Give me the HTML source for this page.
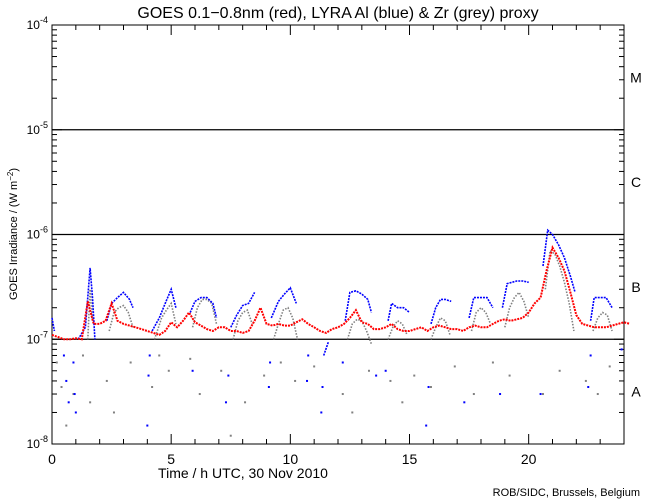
<!DOCTYPE html>
<html><head><meta charset="utf-8"><style>
body{margin:0;background:#fff;}
svg{display:block;font-family:"Liberation Sans",sans-serif;}
</style></head><body>
<svg id="chart" width="650" height="500">
<text x="338" y="18" font-size="16" text-anchor="middle">GOES 0.1−0.8nm (red), LYRA Al (blue) &amp; Zr (grey) proxy</text>
<text x="243" y="478" font-size="14" text-anchor="middle">Time / h UTC, 30 Nov 2010</text>
<text x="640" y="496" font-size="11" text-anchor="end">ROB/SIDC, Brussels, Belgium</text>
<text transform="translate(17,234) rotate(-90)" font-size="11" text-anchor="middle">GOES Irradiance / (W m<tspan dy="-4" font-size="8">−2</tspan><tspan dy="4">)</tspan></text>
<g id="axes"></g>
<g id="marks"></g>
</svg>
<script>
// hours 0..24 at 0.25 h step, values in 1e-7 W/m^2
const redV=[1.1,1.05,1.0,1.0,1.02,1.0,2.3,1.4,1.4,1.5,2.2,1.5,1.4,1.35,1.3,1.25,1.2,1.15,1.1,1.2,1.45,1.3,1.5,1.8,1.45,1.35,1.25,1.2,1.3,1.3,1.2,1.2,1.15,1.2,1.5,2.0,1.4,1.35,1.4,1.35,1.35,1.45,1.55,1.4,1.3,1.2,1.15,1.25,1.3,1.4,1.6,1.9,1.45,1.4,1.25,1.25,1.3,1.4,1.25,1.2,1.2,1.25,1.3,1.2,1.3,1.35,1.3,1.25,1.25,1.2,1.3,1.35,1.3,1.3,1.4,1.5,1.55,1.5,1.55,1.6,1.8,2.2,2.5,4.5,7.5,6.0,4.5,2.8,1.7,1.4,1.35,1.3,1.3,1.3,1.35,1.4,1.45,1.4];
const blueT=[0,0.1,null,1.1,1.4,1.6,1.7,1.8,null,2.3,2.5,2.75,3.0,3.25,3.4,null,4.2,4.5,4.75,5.0,5.2,null,5.8,6.0,6.25,6.5,6.75,6.9,null,7.5,7.75,8.0,8.25,8.5,null,9.2,9.5,9.75,10.0,10.25,null,11.4,11.6,null,12.3,12.5,12.75,13.0,13.25,13.4,null,14.1,14.25,14.5,14.75,15.0,null,15.9,16.1,16.3,16.5,16.75,null,17.5,17.7,18.0,18.25,18.5,null,18.9,19.1,19.5,19.75,20.0,null,20.6,20.8,21.0,21.25,21.5,21.75,21.95,null,22.6,22.75,23.0,23.25,23.5];
const blueV=[1.6,1.2,null,1.0,1.3,4.8,2.5,1.0,null,1.5,2.2,2.5,2.8,2.4,2.0,null,1.2,1.6,2.2,3.0,2.0,null,1.8,2.3,2.5,2.5,2.2,1.6,null,1.3,1.7,2.1,2.2,2.8,null,1.6,2.3,2.7,3.1,2.2,null,0.7,0.95,null,1.5,2.8,2.9,2.7,2.4,1.8,null,1.5,2.2,2.0,2.0,1.8,null,1.4,2.0,2.4,2.4,2.3,null,1.6,2.5,2.5,2.5,2.0,null,2.0,3.4,3.6,3.6,3.5,null,5.0,11,10,8,6,4,2.8,null,1.5,2.5,2.5,2.5,2.0];
const greyT=[1.5,1.6,1.7,null,2.4,2.6,2.8,3.0,3.2,3.4,null,4.3,4.6,4.8,5.0,5.2,null,5.9,6.1,6.3,6.5,6.7,6.9,null,7.6,7.8,8.0,8.2,8.4,null,9.3,9.5,9.7,9.9,10.1,10.3,null,12.4,12.6,12.8,13.0,13.2,13.4,null,14.1,14.3,14.5,14.7,14.9,null,15.9,16.1,16.3,16.5,16.7,null,17.6,17.8,18.0,18.2,18.4,null,19.0,19.2,19.4,19.6,19.8,20.0,null,20.7,20.9,21.1,21.3,21.5,21.7,21.9,null,22.7,22.9,23.1,23.3,23.5];
const greyV=[1.0,3.0,1.5,null,1.2,1.8,2.0,2.1,1.8,1.3,null,1.0,1.6,1.9,2.2,1.4,null,1.3,2.0,2.4,2.4,2.2,1.4,null,1.0,1.5,1.8,1.9,1.4,null,1.0,1.4,1.9,2.0,1.6,1.0,null,1.0,1.4,1.55,1.5,1.2,0.9,null,1.0,1.3,1.5,1.4,1.1,null,1.0,1.3,1.6,1.5,1.1,null,1.2,1.8,2.0,1.8,1.4,null,1.3,2.0,2.5,2.8,2.3,1.6,null,3.0,7.0,6.5,5.0,3.5,2.2,1.2,null,1.2,1.6,1.8,1.7,1.2];
const blueDropT=[0.5,0.6,0.7,0.9,0.95,1.0,4.0,4.05,4.1,5.9,7.3,7.4,9.1,9.15,10.7,10.75,11.3,11.35,12.2,13.6,14.0,15.7,15.8,17.3,18.8,20.5,22.5,22.6,23.9];
const blueDropV=[0.7,0.4,0.25,0.6,0.3,0.2,0.15,0.45,0.7,0.5,0.25,0.45,0.35,0.6,0.4,0.7,0.2,0.35,0.6,0.45,0.5,0.15,0.35,0.25,0.3,0.3,0.35,0.7,0.8];
const greyDropT=[0.2,0.4,0.6,0.9,1.3,1.6,2.3,2.6,3.3,4.2,4.5,4.9,5.8,6.2,7.1,7.5,8.1,8.9,9.6,10.2,11.0,12.2,12.6,13.3,14.2,14.7,15.2,15.9,16.9,17.7,18.5,19.2,20.6,21.3,22.4,22.9,23.4];
const greyDropV=[0.6,0.35,0.15,0.3,0.7,0.25,0.4,0.2,0.6,0.35,0.7,0.5,0.65,0.3,0.5,0.12,0.25,0.45,0.6,0.4,0.55,0.3,0.2,0.5,0.4,0.25,0.45,0.35,0.55,0.3,0.6,0.45,0.3,0.5,0.4,0.3,0.55];
const yTickExp=[-4,-5,-6,-7,-8];
const xTickLabels=[0,5,10,15,20];
const classLetters=["M","C","B","A"];
const classExp=[-4.5,-5.5,-6.5,-7.5];

const X0=52,X1=624,Y0=444,Y1=25;
const xs=h=>X0+(X1-X0)*h/24;
const ys=e=>Y0-(Y0-Y1)*(e+8)/4;            // e = log10 exponent
const yv=v=>ys(Math.log10(v*1e-7));
const NS="http://www.w3.org/2000/svg";
const axes=document.getElementById('axes'),marks=document.getElementById('marks');
function mk(tag,attrs,parent){const e=document.createElementNS(NS,tag);for(const k in attrs)e.setAttribute(k,attrs[k]);parent.appendChild(e);return e;}

let box=mk('rect',{x:X0,y:Y1,width:X1-X0,height:Y0-Y1,fill:'none',stroke:'#000','stroke-width':1},axes);


// class threshold lines
[-5,-6,-7].forEach(e=>{const l=mk('line',{x1:X0,x2:X1,y1:ys(e),y2:ys(e),stroke:'#000','stroke-width':1.2},axes);

});
// x ticks
for(let h=0;h<=24;h++){const len=h%5===0?10:5;const x=xs(h);
mk('line',{x1:x,x2:x,y1:Y0,y2:Y0-len,stroke:'#000'},axes);mk('line',{x1:x,x2:x,y1:Y1,y2:Y1+len,stroke:'#000'},axes);}
xTickLabels.forEach(h=>{const t=mk('text',{x:xs(h),y:Y0+20,'font-size':14,'text-anchor':'middle'},axes);t.textContent=h;

});
// y ticks
for(let e=-8;e<-4;e++){for(let m=1;m<10;m++){const y=ys(e+Math.log10(m));const len=m===1?10:5;
mk('line',{x1:X0,x2:X0+len,y1:y,y2:y,stroke:'#000'},axes);mk('line',{x1:X1,x2:X1-len,y1:y,y2:y,stroke:'#000'},axes);}}
yTickExp.forEach(e=>{const t=mk('text',{x:48,y:ys(e)+4,'font-size':12,'text-anchor':'end'},axes);
t.innerHTML='10<tspan dy="-6" font-size="9">'+e+'</tspan>';

});
classLetters.forEach((c,i)=>{const t=mk('text',{x:636,y:ys(classExp[i])+5,'font-size':14,'text-anchor':'middle'},axes);t.textContent=c;

});

function line(T,V,color,w,dash,name){let d='',pen=false;
for(let i=0;i<T.length;i++){if(T[i]===null||V[i]===null){pen=false;continue;}d+=(pen?'L':'M')+xs(T[i]).toFixed(1)+','+yv(V[i]).toFixed(1);pen=true;}
const p=mk('path',{d:d,fill:'none',stroke:color,'stroke-width':w,'stroke-dasharray':dash||'none'},marks);

}
function dots(T,V,color,name){const g=mk('g',{fill:color},marks);


T.forEach((t,i)=>mk('rect',{x:xs(t)-1,y:yv(V[i])-1,width:2,height:2},g));}

line(greyT,greyV,'#808080',1.6,'1.5 1.5','grey-zr-series');
dots(greyDropT,greyDropV,'#808080','grey-dropout-points');
line(blueT,blueV,'#0000ff',1.6,'2 1','blue-al-series');
dots(blueDropT,blueDropV,'#0000ff','blue-dropout-points');
const redT=redV.map((_,i)=>i*0.25);
line(redT,redV,'#ff0000',2,'2 1','red-goes-series');
</script>
</body></html>
